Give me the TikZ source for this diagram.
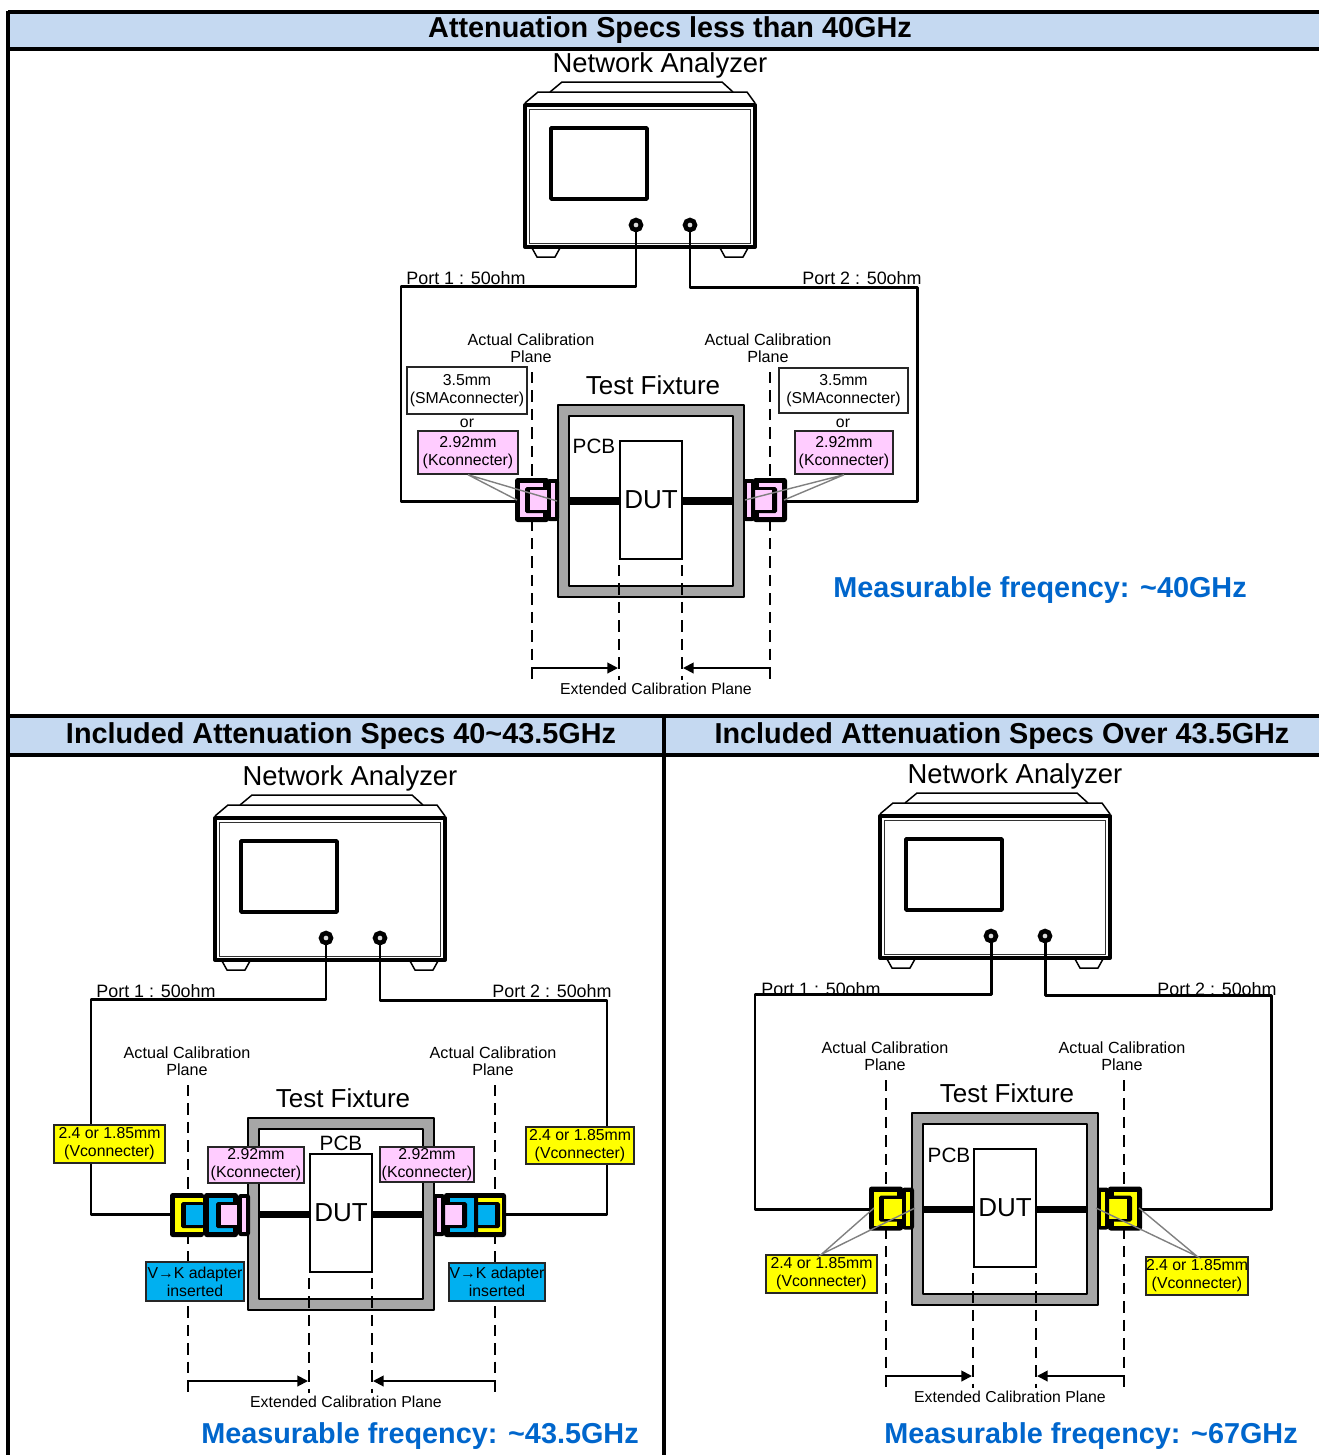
\documentclass[tikz,border=0pt]{standalone}
\usepackage{fontspec}
\usepackage{xcolor}
\usepackage{tikz}
\usetikzlibrary{arrows.meta}
\setmainfont{Liberation Sans}
\definecolor{bandblue}{HTML}{C5D9F1}
\definecolor{conpink}{HTML}{FFCCFF}
\definecolor{conyellow}{HTML}{FFFF00}
\definecolor{conblue}{HTML}{00B0F0}
\definecolor{fixgray}{HTML}{A6A6A6}
\definecolor{freqblue}{HTML}{0066CC}

\newcommand{\constage}[8]{%
  \begin{scope}[shift={(#1,#2)},xscale=#3]
    \fill[black,rounded corners=1.5pt] (0,-22) rectangle (34,22);
    \fill[#4] (#6,-17) rectangle (#7,17);
    \fill[black,rounded corners=1pt] (#8,-13) rectangle (34,13);
    \fill[#5] (#8+5,-10) rectangle (33,10);
  \end{scope}}
\newcommand{\conflange}[4]{%
  \begin{scope}[shift={(#1,#2)},xscale=#3]
    \fill[black,rounded corners=1.5pt] (0,-21) rectangle (12,21);
    \fill[#4] (4,-17) rectangle (8,17);
  \end{scope}}

\begin{document}
\begin{tikzpicture}[
  x=0.02cm, y=-0.02cm,
  rule/.style={line width=1.8pt, black},
  thinline/.style={line width=0.85pt, black},
  wire/.style={line width=1.7pt, black, line join=round},
  port/.style={circle, draw=black, line width=2.6pt, fill=black!15, minimum size=0.2cm, inner sep=0pt},
  calib/.style={line width=1.3pt, black, dash pattern=on 6.5pt off 4pt},
  arr/.style={-{Triangle[length=6pt,width=6pt]}, line width=1.1pt, black},
  leader/.style={line width=0.8pt, black!50},
  conbox/.style={draw=black!85, line width=0.85pt, inner sep=0pt, align=center, font=\fontsize{9}{10.2}\selectfont},
  small/.style={inner sep=0pt, align=center, font=\fontsize{9.2}{10}\selectfont},
  portlbl/.style={inner sep=0pt, font=\fontsize{10.2}{12}\selectfont},
  biglbl/.style={inner sep=0pt, font=\fontsize{14.8}{16}\selectfont},
  header/.style={inner sep=0pt, font=\fontsize{16.4}{18}\selectfont\bfseries},
  freq/.style={inner sep=0pt, text=freqblue, font=\fontsize{16.4}{18}\selectfont\bfseries},
  pics/analyzer/.style={code={
    \node[inner sep=0pt, font=\fontsize{15.6}{17}\selectfont] (title) at (660,65) {Network Analyzer};
    \draw[thinline] (550,92) -- (562,82) -- (722,82) -- (733,92);
    \draw[thinline] (525,103) -- (538,92) -- (747,92) -- (755,103);
    \draw[thinline] (532,248) -- (537,257) -- (555,257) -- (560,248);
    \draw[thinline] (720,248) -- (725,257) -- (743,257) -- (748,248);
    \draw[line width=2.3pt, black, fill=white, line join=round] (525,105) rectangle (755,247);
    \draw[line width=0.5pt, black!80] (529,109) rectangle (750,243);
    \draw[line width=2pt, black, line join=round] (551,128) rectangle (647,199);
    \node[port] (port1) at (636,225) {};
    \node[port] (port2) at (690,225) {};
    \node[portlbl] (lbl1) at (466,278) {Port 1 : 50ohm};
    \node[portlbl] (lbl2) at (862,278) {Port 2 : 50ohm};
  }},
  pics/fixture/.style n args={4}{code={
    \coordinate (tl) at (401,286);
    \coordinate (bl) at (401,501);
    \coordinate (ml) at (520,501);
    \coordinate (tr) at (917,287);
    \coordinate (br) at (917,501);
    \coordinate (mr) at (782,501);
    \node[small] (calL) at (#1-1,348) {Actual Calibration\\Plane};
    \node[small] (calR) at (#2-2,348) {Actual Calibration\\Plane};
    \coordinate (topL) at (#1,372);
    \coordinate (endL) at (#1,680);
    \coordinate (topR) at (#2,372);
    \coordinate (endR) at (#2,680);
    \draw[calib] (topL) -- (endL);
    \draw[calib] (topR) -- (endR);
    \node[biglbl] (tftext) at (653,385) {Test Fixture};
    \draw[line width=1.5pt, black, fill=fixgray, line join=round] (558,405) rectangle (744,597);
    \draw[line width=1.5pt, black, fill=white, line join=round] (569,416) rectangle (733,586);
    \node[draw=black, line width=1.1pt, fill=white, minimum width=1.24cm, minimum height=2.36cm, inner sep=0pt,
      font=\fontsize{14.8}{16}\selectfont] (dut) at (651,500) {DUT};
    \node[inner sep=0pt, font=\fontsize{11.8}{13}\selectfont] (pcb) at (#3,#4) {PCB};
    \coordinate (pcbL) at (569,501);
    \coordinate (pcbR) at (733,501);
    \draw[line width=4pt, black] (pcbL) -- (dut.west |- pcbL);
    \draw[line width=4pt, black] (pcbR) -- (dut.east |- pcbR);
    \coordinate (dutL) at (619,565);
    \coordinate (dutR) at (682,565);
    \draw[calib] (dutL) -- (619,680);
    \draw[calib] (dutR) -- (682,680);
    \coordinate (tipL) at (618,668);
    \coordinate (tipR) at (683,668);
    \draw[arr] (topL |- tipL) -- (tipL);
    \draw[arr] (topR |- tipR) -- (tipR);
    \node[small, font=\fontsize{9}{10}\selectfont] (ext) at (656,689) {Extended Calibration Plane};
  }}
]
\useasboundingbox (0,0) rectangle (1319,1455);

\fill[bandblue] (8,12) rectangle (1319,49);
\fill[bandblue] (8,716) rectangle (1319,755);
\draw[rule] (8,12) -- (1319,12);
\draw[rule] (8,49) -- (1319,49);
\draw[rule] (8,716) -- (1319,716);
\draw[rule] (8,755) -- (1319,755);
\draw[rule] (8,11) -- (8,1455);
\draw[rule] (664,716) -- (664,1455);
\node[header] (headtop) at (670,30) {Attenuation Specs less than 40GHz};
\node[header] (headleft) at (341,736) {Included Attenuation Specs 40\textasciitilde43.5GHz};
\node[header] (headright) at (1002,736) {Included Attenuation Specs Over 43.5GHz};

\foreach \nm/\ax/\ay/\bx/\by/\calx/\caly/\pcbx/\pcby in {
  top/0/0/0/0/532/770/594/446,
  left/-310/713/-310/713/498/805/651/430,
  right/355/711/354/708/532/770/595/447} {
  \pic (\nm an) at (\ax,\ay) {analyzer};
  \pic (\nm fx) at (\bx,\by) {fixture={\calx}{\caly}{\pcbx}{\pcby}};
  \draw[wire] (\nm anport1.south) |- (\nm fxtl) -- (\nm fxbl) -- (\nm fxml);
  \draw[wire] (\nm anport2.south) |- (\nm fxtr) -- (\nm fxbr) -- (\nm fxmr);
}

\constage{515}{500}{1}{conpink}{conpink}{5}{28}{10}
\conflange{547}{500}{1}{conpink}
\constage{787}{500}{-1}{conpink}{conpink}{5}{28}{10}
\conflange{755}{500}{-1}{conpink}
\node[conbox, minimum width=2.4cm, minimum height=0.94cm] (smaL) at (467,390.5) {3.5mm\\(SMAconnecter)};
\node[conbox, minimum width=2.58cm, minimum height=0.9cm] (smaR) at (843.5,390.5) {3.5mm\\(SMAconnecter)};
\node[small, font=\fontsize{9}{10}\selectfont] (orL) at (467,423) {or};
\node[small, font=\fontsize{9}{10}\selectfont] (orR) at (843,423) {or};
\node[conbox, fill=conpink, minimum width=2cm, minimum height=0.86cm] (pinkL) at (468,452.5) {2.92mm\\(Kconnecter)};
\node[conbox, fill=conpink, minimum width=1.96cm, minimum height=0.86cm] (pinkR) at (844,452.5) {2.92mm\\(Kconnecter)};
\coordinate (pinkLa) at (517,500);
\coordinate (pinkLb) at (557,501);
\coordinate (pinkRa) at (745,500);
\coordinate (pinkRb) at (784,500);
\draw[leader] (pinkLa) -- (pinkL.south) -- (pinkLb);
\draw[leader] (pinkRa) -- (pinkR.south) -- (pinkRb);
\node[freq] (freqtop) at (1040,590) {Measurable freqency: \textasciitilde40GHz};

\constage{170}{1215}{1}{conyellow}{conblue}{5}{33}{11}
\constage{204}{1215}{1}{conblue}{conpink}{5}{29}{12}
\conflange{238}{1215}{1}{conpink}
\constage{506}{1215}{-1}{conyellow}{conblue}{4}{28}{6}
\constage{478}{1215}{-1}{conblue}{conpink}{4}{28}{11}
\conflange{445}{1215}{-1}{conpink}
\node[conbox, fill=conyellow, minimum width=2.22cm, minimum height=0.76cm] (yellowL) at (109.5,1144) {2.4 or 1.85mm\\(Vconnecter)};
\node[conbox, fill=conyellow, minimum width=2.16cm, minimum height=0.74cm] (yellowR) at (580,1145.5) {2.4 or 1.85mm\\(Vconnecter)};
\node[conbox, fill=conpink, minimum width=1.92cm, minimum height=0.72cm] (kboxL) at (256,1165) {2.92mm\\(Kconnecter)};
\node[conbox, fill=conpink, minimum width=1.88cm, minimum height=0.7cm] (kboxR) at (427,1164.5) {2.92mm\\(Kconnecter)};
\node[conbox, fill=conblue, minimum width=1.96cm, minimum height=0.78cm] (adaptL) at (195,1281.5) {V→K adapter\\inserted};
\node[conbox, fill=conblue, minimum width=1.92cm, minimum height=0.76cm] (adaptR) at (497,1282) {V→K adapter\\inserted};
\node[freq] (freqleft) at (420,1436) {Measurable freqency: \textasciitilde43.5GHz};

\constage{869}{1208.5}{1}{conyellow}{conyellow}{5}{28}{10}
\conflange{902}{1208.5}{1}{conyellow}
\constage{1142}{1208.5}{-1}{conyellow}{conyellow}{5}{28}{10}
\conflange{1109}{1208.5}{-1}{conyellow}
\node[conbox, fill=conyellow, minimum width=2.22cm, minimum height=0.76cm] (vboxL) at (821.5,1274) {2.4 or 1.85mm\\(Vconnecter)};
\node[conbox, fill=conyellow, minimum width=2.04cm, minimum height=0.76cm] (vboxR) at (1197,1276) {2.4 or 1.85mm\\(Vconnecter)};
\coordinate (vLa) at (874,1208);
\coordinate (vLb) at (915,1208);
\coordinate (vRa) at (1096,1208);
\coordinate (vRb) at (1139,1208);
\draw[leader] (vLa) -- (vboxL.north) -- (vLb);
\draw[leader] (vRa) -- (vboxR.north) -- (vRb);
\node[freq] (freqright) at (1091,1436) {Measurable freqency: \textasciitilde67GHz};
\end{tikzpicture}
\end{document}
